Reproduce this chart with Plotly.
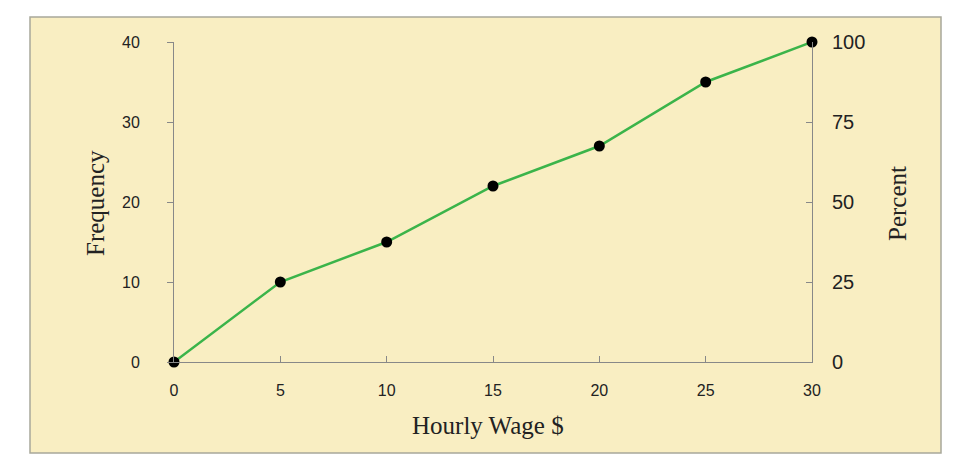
import plotly.graph_objects as go

wage = [0, 5, 10, 15, 20, 25, 30]
frequency = [0, 10, 15, 22, 27, 35, 40]
left_ticks = [0, 10, 20, 30, 40]
right_ticks = [0, 25, 50, 75, 100]
x_ticks = [0, 5, 10, 15, 20, 25, 30]

# page has an 8px body margin; work in reference pixel coords shifted by it
OFF = 8
W, H = 972 - OFF, 476 - OFF
L, R, T, B = 174 - OFF, 812 - OFF, 42 - OFF, 362 - OFF
pw, ph = R - L, B - T

def px(x):
    return (x - OFF - L) / pw

def py(y):
    return (B - (y - OFF)) / ph

fig = go.Figure()
fig.add_trace(go.Scatter(
    x=wage, y=frequency, mode="lines+markers",
    line=dict(color="#3BB44A", width=2.5),
    marker=dict(color="black", size=11),
    cliponaxis=False, showlegend=False,
))
# invisible trace to activate right axis
fig.add_trace(go.Scatter(x=[wage[0]], y=[right_ticks[0]], yaxis="y2",
                         mode="markers", marker=dict(opacity=0),
                         showlegend=False, hoverinfo="skip"))

axis_common = dict(tickcolor="#888888", showline=True, linecolor="#888888",
                   linewidth=1, showgrid=False, zeroline=False, ticklen=6)

fig.update_layout(
    width=W, height=H,
    margin=dict(l=L, r=W - R, t=T, b=H - B),
    paper_bgcolor="white",
    plot_bgcolor="rgba(0,0,0,0)",
    xaxis=dict(range=[0, 30], tickvals=x_ticks, ticks="inside",
               tickfont=dict(family="Liberation Sans, Arial", size=16, color="#222"),
               ticklabelstandoff=14, **axis_common),
    yaxis=dict(range=[0, 40], tickvals=left_ticks, ticks="outside",
               tickfont=dict(family="Liberation Sans, Arial", size=16, color="#222"),
               ticklabelstandoff=24, **axis_common),
    yaxis2=dict(range=[0, 100], tickvals=right_ticks, overlaying="y", side="right",
                ticks="inside",
                tickfont=dict(family="Liberation Sans, Arial", size=20, color="#222"),
                ticklabelstandoff=15, **axis_common),
    shapes=[dict(type="rect", xref="paper", yref="paper",
                 x0=px(30), x1=px(941), y0=py(453), y1=py(17),
                 fillcolor="#F9EEC2", line=dict(color="#A8A89A", width=1.5),
                 layer="below")],
    annotations=[
        dict(text="Hourly Wage $", xref="paper", yref="paper",
             x=px(488), y=py(425), showarrow=False,
             xanchor="center", yanchor="middle",
             font=dict(family="Liberation Serif, Times New Roman", size=25, color="#222")),
        dict(text="Frequency", xref="paper", yref="paper",
             x=px(95), y=py(203), showarrow=False, textangle=-90,
             xanchor="center", yanchor="middle",
             font=dict(family="Liberation Serif, Times New Roman", size=25, color="#222")),
        dict(text="Percent", xref="paper", yref="paper",
             x=px(897), y=py(204), showarrow=False, textangle=-90,
             xanchor="center", yanchor="middle",
             font=dict(family="Liberation Serif, Times New Roman", size=25, color="#222")),
    ],
)

fig.write_html("out.html")
